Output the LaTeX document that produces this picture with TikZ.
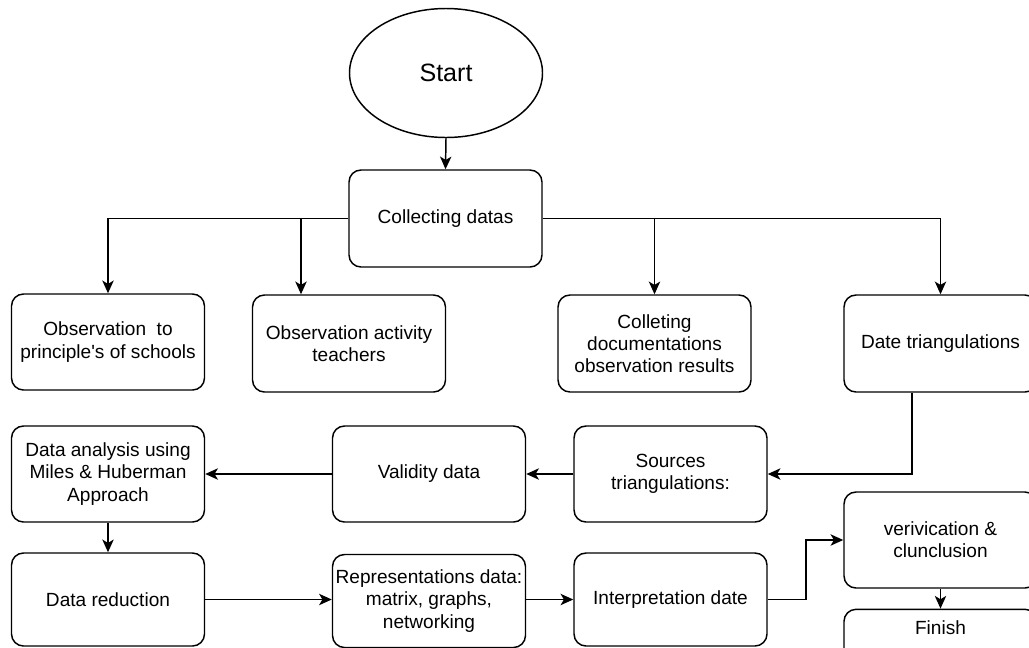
\documentclass[tikz,border=0pt]{standalone}
\usepackage{fontspec}
\setmainfont{Liberation Sans}[Ligatures=TeXOff]
\usetikzlibrary{shapes.geometric,arrows.meta}
\begin{document}
\begin{tikzpicture}[x=0.75pt,y=-0.75pt,
  box/.style={draw,line width=1.1pt,rounded corners=9pt,align=center,inner sep=2pt,
    minimum width=144.75pt,minimum height=72pt,
    font=\fontsize{14.3pt}{16.6pt}\selectfont},
  arr/.style={line width=1.1pt,-{Stealth[length=9.5pt,width=8.5pt,inset=2.5pt]}},
  ln/.style={line width=1.1pt}]
\useasboundingbox (0,0) rectangle (1029,647);
\node[draw,ellipse,line width=1.1pt,inner sep=0pt,minimum width=144.75pt,minimum height=96.75pt,
  font=\fontsize{18.8pt}{22pt}\selectfont] (start) at (446,73) {Start};
\node[box,minimum height=72.75pt] (collect) at (445.5,218.5) {Collecting datas};
\node[box] (obs1) at (108,342) {Observation~~to\\principle's of schools};
\node[box,minimum height=72.75pt] (obs2) at (349,343.5) {Observation activity\\teachers};
\node[box,minimum height=72.75pt] (coll) at (654.5,343.5) {Colleting\\documentations\\observation results};
\node[box,minimum height=72.75pt] (tri) at (940.5,343.5) {Date triangulations};
\node[box] (analysis) at (108,474) {Data analysis using\\Miles \& Huberman\\Approach};
\node[box] (validity) at (429,474) {Validity data};
\node[box] (sources) at (670.5,474) {Sources\\triangulations:};
\node[box,minimum height=69.75pt] (reduction) at (108,599.5) {Data reduction};
\node[box,minimum height=69.75pt] (repr) at (429,601) {Representations data:\\matrix, graphs,\\networking};
\node[box,minimum height=69.75pt] (interp) at (670.5,599.5) {Interpretation date};
\node[box] (verif) at (940.5,540) {verivication \&\\clunclusion};
\node[box,minimum height=40pt,text depth=12pt] (finish) at (940.5,636) {Finish};
% coordinates for off-centre branches
\coordinate (b2) at (301,219);
\coordinate (t1) at (912,0);
\coordinate (k1) at (806,0);
% connectors
\draw[arr] (start.south) -- (collect.north);
\draw[arr] (collect.west) -| (obs1.north);
\draw[arr] (b2) -- (b2 |- obs2.north);
\draw[arr] (collect.east -| coll.north) -- (coll.north);
\draw[arr] (collect.east) -| (tri.north);
\draw[arr] (tri.south -| t1) |- (sources.east);
\draw[arr] (sources.west) -- (validity.east);
\draw[arr] (validity.west) -- (analysis.east);
\draw[arr] (analysis.south) -- (reduction.north);
\draw[arr] (reduction.east) -- (reduction.east -| repr.west);
\draw[arr] (interp.west -| repr.east) -- (interp.west);
\draw[arr] (interp.east) -- (interp.east -| k1) |- (verif.west);
\draw[arr] (verif.south) -- (finish.north);
\end{tikzpicture}
\end{document}
